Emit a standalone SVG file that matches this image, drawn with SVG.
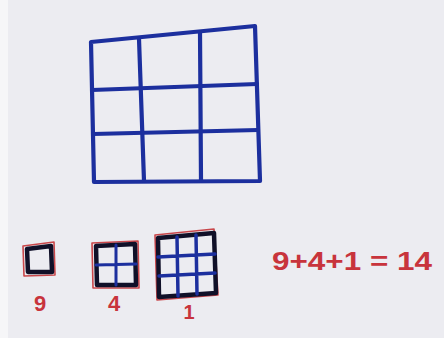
<svg xmlns="http://www.w3.org/2000/svg" width="444" height="338" viewBox="0 0 444 338">
<style>
.blue{fill:none;stroke:#1c2f9e;stroke-width:4.2;stroke-linecap:round;stroke-linejoin:round}
.blk{fill:none;stroke:#101028;stroke-width:4.5;stroke-linejoin:round}
.red{fill:none;stroke:#c8464a;stroke-width:1.6;stroke-linejoin:round}
.lbl{font-family:"Liberation Sans",Arial,sans-serif;font-weight:bold;fill:#c8343c}
</style>
<rect width="444" height="338" fill="#ececf1"/>
<rect width="8" height="338" fill="#f6f6f8"/>
<g id="big-grid">
<path class="blue" d="M91,42 L255,26 L260,181 L94,182 Z"/>
<path class="blue" d="M139,39 L144,181"/>
<path class="blue" d="M200,32 L201,181"/>
<path class="blue" d="M92,90 L257,84"/>
<path class="blue" d="M93,134 L258,130"/>
</g>
<g id="square-1">
<path class="red" d="M23,246 L54,242 L55,275 L24,276 Z"/>
<path class="blk" d="M27,249 L51,246 L52,272 L28,272 Z"/>
<text class="lbl" x="40" y="311" font-size="22" text-anchor="middle">9</text>
</g>
<g id="square-2">
<path class="red" d="M92,243 L138,241 L139,288 L93,288 Z"/>
<path class="blk" d="M96,246 L135,244 L136,285 L97,285 Z"/>
<path class="blue" style="stroke-width:3" d="M116,245 L116,285 M96,265 L136,264"/>
<text class="lbl" x="114" y="311" font-size="22" text-anchor="middle">4</text>
</g>
<g id="square-3">
<path class="red" d="M155,235 L214,229 L218,295 L157,300 Z"/>
<path class="blk" d="M158,238 L214,233 L216,293 L159,297 Z"/>
<path class="blue" style="stroke-width:3.5" d="M177,237 L178,296 M196,235 L197,294 M158,257 L215,254 M159,276 L215,273"/>
<text class="lbl" x="189" y="319" font-size="20" text-anchor="middle">1</text>
</g>
<g id="equation">
<text class="lbl" x="272" y="270" font-size="26" textLength="160" lengthAdjust="spacingAndGlyphs">9+4+1 = 14</text>
</g>
</svg>
